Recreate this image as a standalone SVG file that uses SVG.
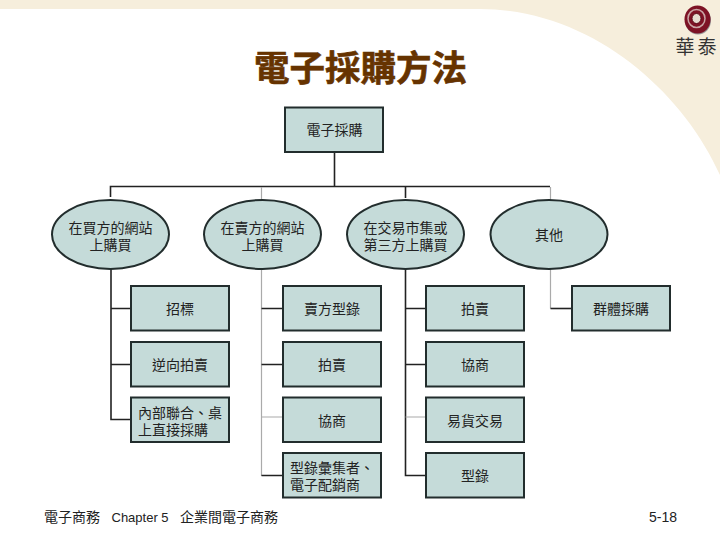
<svg xmlns="http://www.w3.org/2000/svg" width="720" height="540" viewBox="0 0 720 540">
<style>
text{font-family:"Noto Sans CJK TC","Noto Sans CJK SC",sans-serif;fill:#222;font-size:14px;text-anchor:middle}
.box{fill:#c5dbd9;stroke:#222d2d;stroke-width:2}
.d{stroke:#222;stroke-width:1.6;fill:none}
.g{stroke:#aaa;stroke-width:1.2;fill:none}
.f{text-anchor:start}
.l{font-family:"Liberation Sans",Arial,sans-serif}
</style>
<rect width="720" height="540" fill="#fff"/>
<path d="M0 0H720V175C682 90 590 9 480 9H0Z" fill="#f6eedc"/>
<g id="logo">
<ellipse cx="698" cy="20.500" rx="13" ry="14" fill="#999"/>
<ellipse cx="697.500" cy="19.500" rx="13" ry="14" fill="#7d1225"/>
<ellipse cx="696.500" cy="18.500" rx="8.500" ry="9" fill="none" stroke="#c9a5a5" stroke-width="1.500"/>
<ellipse cx="696.500" cy="18.500" rx="4.500" ry="5" fill="#e5dcd0" stroke="#5a0a18" stroke-width="1"/>
<text x="697.500" y="54" style="font-size:19px;letter-spacing:3px;fill:#333">華泰</text>
</g>
<text id="title" x="360.500" y="81" style="font-size:35.500px;font-weight:700;fill:#663300;stroke:#663300;stroke-width:.6">電子採購方法</text>
<g id="connectors">
<path class="d" d="M334.500 152V186M110.500 197V186.500H550"/>
<path class="d" d="M405.500 186.500V198"/>
<path class="g" d="M261.500 187V200M550.500 187V200"/>
<path class="d" d="M111 268V419.500H131M111 308.500H131M111 364.500H131"/>
<path class="g" d="M261.500 268V475.500H283M261.500 417H283"/>
<path class="d" d="M261.500 308.500H283M261.500 364.500H283M261.500 475.500H283"/>
<path class="d" d="M405.500 268V475.500H426M405.500 308.500H426M405.500 364.500H426M405.500 475.500H426"/>
<path class="g" d="M405.500 417H426M550.500 268V308.500"/>
<path class="d" d="M550.500 308.500H572"/>
</g>
<g id="n0"><rect class="box" x="285" y="107.500" width="98" height="44.500"/><text x="334.500" y="134.500">電子採購</text></g>
<g id="n1"><ellipse class="box" cx="110.500" cy="234.500" rx="58.500" ry="34.500"/><text x="110.500" y="233">在買方的網站</text><text x="110.500" y="249.500">上購買</text></g>
<g id="n2"><ellipse class="box" cx="262.500" cy="234.500" rx="58.500" ry="34.500"/><text x="262.500" y="233">在賣方的網站</text><text x="262.500" y="249.500">上購買</text></g>
<g id="n3"><ellipse class="box" cx="405.500" cy="234.500" rx="58.500" ry="34.500"/><text x="405.500" y="233">在交易市集或</text><text x="405.500" y="249.500">第三方上購買</text></g>
<g id="n4"><ellipse class="box" cx="549" cy="234.500" rx="58.500" ry="34.500"/><text x="549" y="240">其他</text></g>
<g id="n5"><rect class="box" x="131" y="286" width="98" height="44.500"/><text x="180" y="313.500">招標</text></g>
<g id="n6"><rect class="box" x="131" y="342" width="98" height="44.500"/><text x="180" y="369.500">逆向拍賣</text></g>
<g id="n7"><rect class="box" x="131" y="397.500" width="98" height="44.500"/><text x="180" y="417.500">內部聯合、桌</text><text x="173" y="434.500">上直接採購</text></g>
<g id="n8"><rect class="box" x="283" y="286" width="98" height="44.500"/><text x="332" y="313.500">賣方型錄</text></g>
<g id="n9"><rect class="box" x="283" y="342" width="98" height="44.500"/><text x="332" y="369.500">拍賣</text></g>
<g id="n10"><rect class="box" x="283" y="397.500" width="98" height="44.500"/><text x="332" y="425.500">協商</text></g>
<g id="n11"><rect class="box" x="283" y="453" width="98" height="44.500"/><text x="332" y="473">型錄彙集者、</text><text x="325" y="490">電子配銷商</text></g>
<g id="n12"><rect class="box" x="426" y="286" width="98" height="44.500"/><text x="475" y="313.500">拍賣</text></g>
<g id="n13"><rect class="box" x="426" y="342" width="98" height="44.500"/><text x="475" y="370">協商</text></g>
<g id="n14"><rect class="box" x="426" y="397.500" width="98" height="44.500"/><text x="475" y="426">易貨交易</text></g>
<g id="n15"><rect class="box" x="426" y="453" width="98" height="44.500"/><text x="475" y="481">型錄</text></g>
<g id="n16"><rect class="box" x="572" y="286" width="98" height="44.500"/><text x="621" y="313.500">群體採購</text></g>
<g id="footer">
<text class="f" x="44" y="522">電子商務</text>
<text class="f l" x="111.500" y="522" style="font-size:13px">Chapter 5</text>
<text class="f" x="180" y="522">企業間電子商務</text>
<text class="l" x="663" y="522">5-18</text>
</g>
</svg>
